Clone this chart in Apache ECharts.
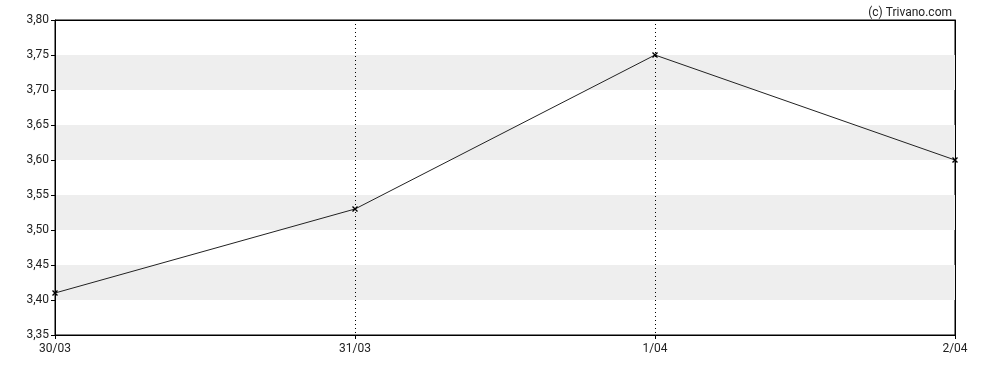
<!DOCTYPE html>
<html>
<head>
<meta charset="utf-8">
<script src="https://cdn.jsdelivr.net/npm/echarts@6/dist/echarts.min.js"></script>
<style>html,body{margin:0;padding:0;background:#fff}#c{width:988px;height:370px}</style>
</head>
<body>
<div id="c"></div>
<script>
const categories = ['30/03', '31/03', '1/04', '2/04'];
const values = [3.41, 3.53, 3.75, 3.60];
const yMin = 3.35, yMax = 3.80, yStep = 0.05;

const chart = echarts.init(document.getElementById('c'), null, {renderer: 'canvas'});
chart.setOption({
  animation: false,
  backgroundColor: '#fff',
  textStyle: {fontFamily: 'Roboto'},
  title: {
    text: '(c) Trivano.com', right: 31, top: 2,
    textStyle: {fontSize: 12, fontWeight: 'normal', color: '#222', fontFamily: 'Roboto'}
  },
  grid: {left: 55, right: 33, top: 20, bottom: 35, show: true, borderColor: '#000', borderWidth: 1, backgroundColor: 'transparent'},
  xAxis: [{
    type: 'category', data: categories, boundaryGap: false,
    axisLine: {lineStyle: {color: '#000', width: 1}},
    axisTick: {show: true, length: 4, lineStyle: {color: '#000'}},
    axisLabel: {color: '#222', fontSize: 12, margin: 8, fontFamily: 'Roboto'},
    splitLine: {show: true, lineStyle: {color: '#000', type: [1, 3], width: 1}}
  }, {
    type: 'category', data: categories, boundaryGap: false, position: 'top',
    axisLine: {show: true, lineStyle: {color: '#000', width: 1}},
    axisTick: {show: false}, axisLabel: {show: false}, splitLine: {show: false}
  }],
  yAxis: [{
    type: 'value', min: yMin, max: yMax, interval: yStep,
    axisLine: {show: true, lineStyle: {color: '#000', width: 1}},
    axisTick: {show: true, length: 4, lineStyle: {color: '#000'}},
    axisLabel: {color: '#222', fontSize: 12, margin: 6, fontFamily: 'Roboto',
      formatter: v => v.toFixed(2).replace('.', ',')},
    splitLine: {show: false},
    splitArea: {show: true, areaStyle: {color: ['rgba(255,255,255,0)', '#eeeeee']}}
  }, {
    type: 'value', min: yMin, max: yMax, interval: yStep, position: 'right',
    axisLine: {show: true, lineStyle: {color: '#000', width: 1}},
    axisTick: {show: false}, axisLabel: {show: false}, splitLine: {show: false}, splitArea: {show: false}
  }],
  series: [{
    type: 'line', data: values, xAxisIndex: 0, yAxisIndex: 0,
    symbol: 'path://M0,0L10,10M10,0L0,10M0,0', symbolSize: 5,
    itemStyle: {color: '#000', borderColor: '#000', borderWidth: 1.4},
    lineStyle: {color: '#222', width: 1},
    emphasis: {disabled: true}
  }]
});
</script>
</body>
</html>
